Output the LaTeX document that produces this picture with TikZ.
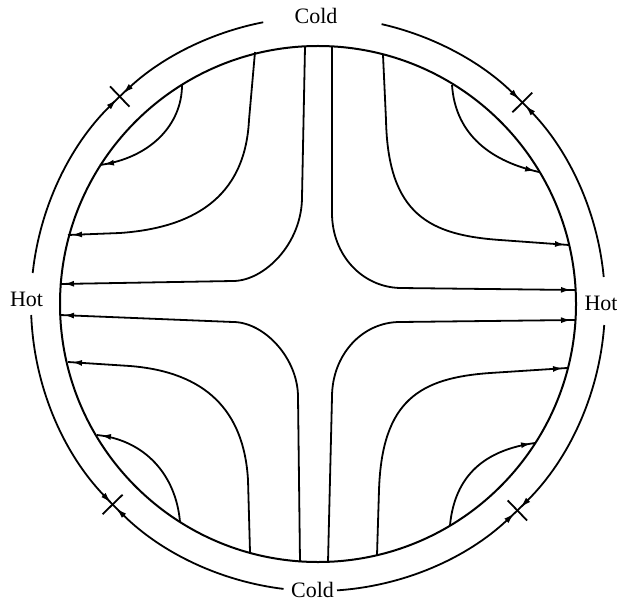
\documentclass[tikz,border=0pt]{standalone}
\usepackage{fontspec}
\setmainfont{Liberation Serif}
\usetikzlibrary{arrows.meta,decorations.markings,calc}
\begin{document}
\begin{tikzpicture}[yscale=-1, x=1pt, y=1pt,
  ring/.style={line width=2pt},
  fld/.style={line width=1.8pt, postaction={decorate},
    decoration={markings, mark=at position -4pt with {\arrow{Latex[length=10pt,width=6pt]}}}},
  flow/.style={line width=1.8pt, -{Latex[length=11pt,width=6pt]}},
  xmark/.style={line width=1.8pt},
  lbl/.style={font=\fontsize{22}{24}\selectfont, inner sep=0pt}
]
\useasboundingbox (0,0) rectangle (617,601);
\coordinate (C) at (318,304);

% inner circle
\draw[ring] (C) circle[radius=258];

% labels
\node[lbl] (coldT) at (316,15.5) {Cold};
\node[lbl] (coldB) at (312.5,589.5) {Cold};
\node[lbl] (hotL) at (26.5,299.5) {Hot};
\node[lbl] (hotR) at (601,303) {Hot};

% outer arcs (angles negated because the y axis points down)
\draw[flow] ($(C)+(-101:287)$) arc[start angle=-101, end angle=-132.9, radius=287];
\draw[flow] ($(C)+(-173.8:287)$) arc[start angle=-173.8, end angle=-134.5, radius=287];
\draw[flow] ($(C)+(-77.2:287)$) arc[start angle=-77.2, end angle=-45.4, radius=287];
\draw[flow] ($(C)+(-5.4:287)$) arc[start angle=-5.4, end angle=-43.8, radius=287];
\draw[flow] ($(C)+(4.2:287)$) arc[start angle=4.2, end angle=45.2, radius=287];
\draw[flow] ($(C)+(86.2:287)$) arc[start angle=86.2, end angle=46.8, radius=287];
\draw[flow] ($(C)+(96.9:287)$) arc[start angle=96.9, end angle=134.7, radius=287];
\draw[flow] ($(C)+(177.8:287)$) arc[start angle=177.8, end angle=136.1, radius=287];

% cross marks
\foreach \a in {-133.7,-44.6,135.7,46} {
  \draw[xmark] ($(C)+(\a:273)$) -- ($(C)+(\a:301)$);
  \draw[xmark] ($(C)+(\a:287)+(\a+90:14)$) -- ($(C)+(\a:287)+(\a-90:14)$);
}

% field lines, top left
\draw[fld] (182,85) .. controls (182,125) and (150,158) .. (100,165);
\draw[fld] (255,52) -- (249,120) .. controls (245,200) and (190,228) .. (120,233) -- (68,235);
\draw[fld] (305,47) -- (302,197) .. controls (302,244) and (264,281) .. (233,281) -- (60,284);
% top right
\draw[fld] (452,85) .. controls (455,130) and (485,160) .. (539,172);
\draw[fld] (383,55) -- (386,120) .. controls (388,215) and (430,235) .. (500,240) -- (569,245);
\draw[fld] (332,47) -- (332,213) .. controls (332,255) and (362,287) .. (400,288) -- (575,290);
% bottom left
\draw[fld] (180,522) .. controls (176,475) and (145,440) .. (97,435);
\draw[fld] (250,552) -- (248,480) .. controls (244,410) and (205,372) .. (130,366) -- (68,362);
\draw[fld] (300,562) -- (298,397) .. controls (298,358) and (264,322) .. (233,322) -- (60,315);
% bottom right
\draw[fld] (450,525) .. controls (455,475) and (485,450) .. (535,443);
\draw[fld] (377,555) -- (379,490) .. controls (382,400) and (420,378) .. (490,373) -- (567,368);
\draw[fld] (328,562) -- (332,397) .. controls (332,355) and (362,322) .. (400,322) -- (575,320);
\end{tikzpicture}
\end{document}
